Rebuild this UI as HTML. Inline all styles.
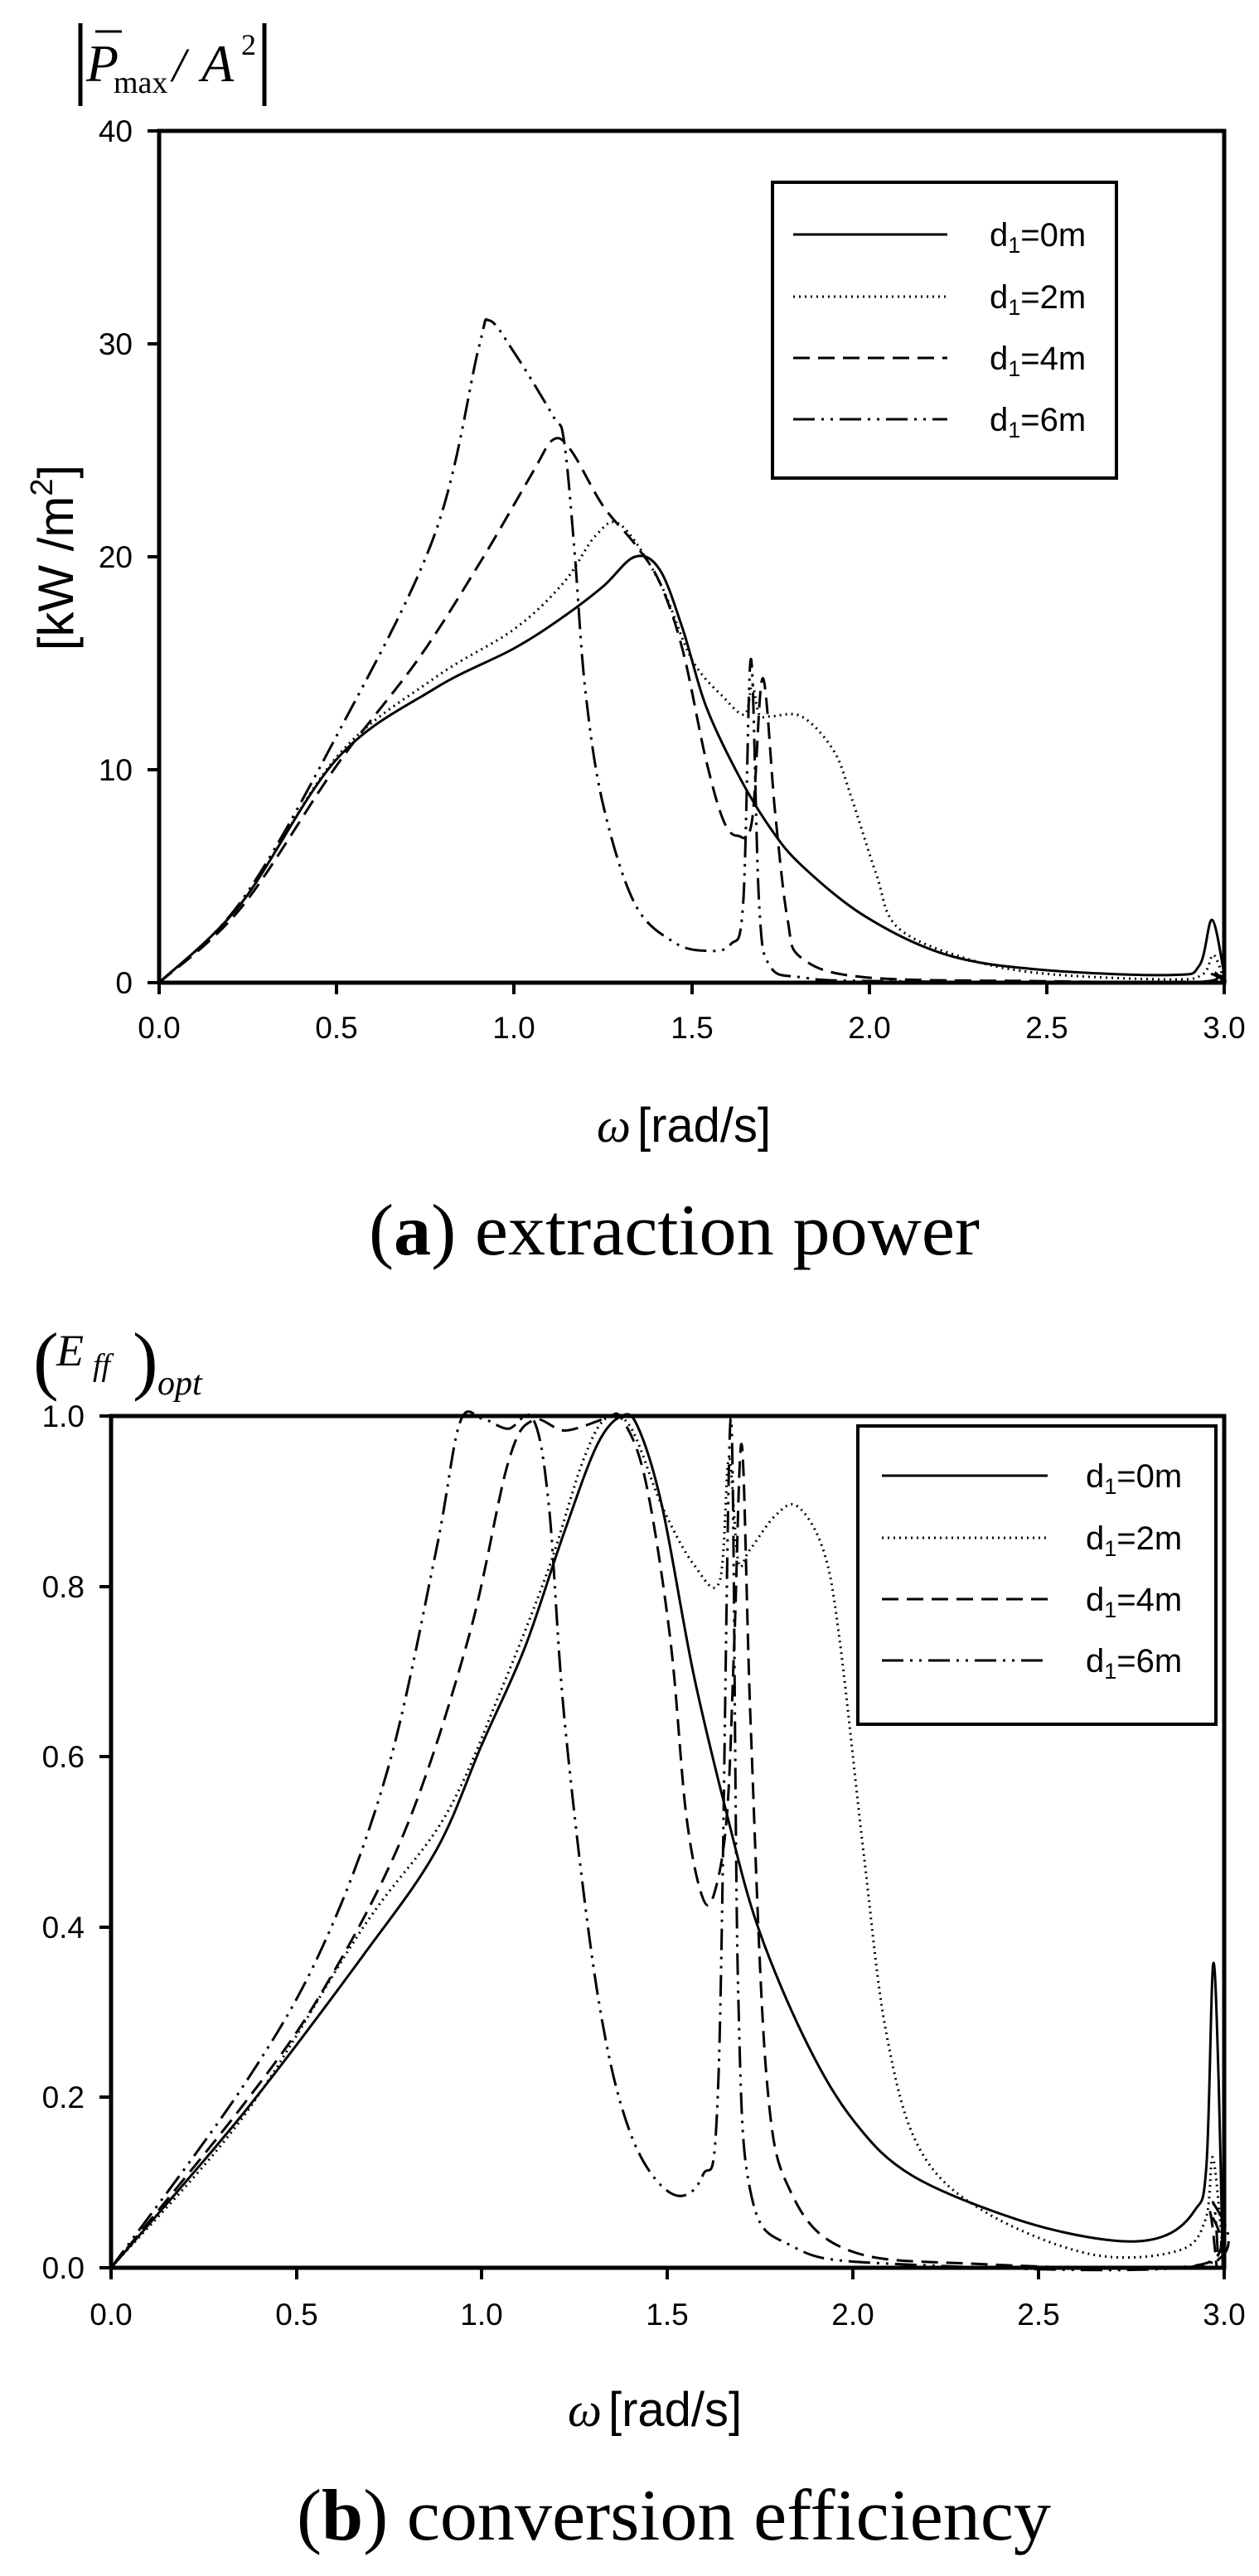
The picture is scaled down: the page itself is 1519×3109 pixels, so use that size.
<!DOCTYPE html>
<html><head><meta charset="utf-8"><style>
html,body{margin:0;padding:0;background:#fff;}
svg{display:block}
.t{font-family:"Liberation Sans",Arial,sans-serif;fill:#000}
.s{font-family:"Liberation Serif","Times New Roman",serif;fill:#000}
</style></head><body>
<svg id="sv" width="1519" height="3109" viewBox="0 0 1519 3109" xmlns="http://www.w3.org/2000/svg">
<rect width="1519" height="3109" fill="#fff"/>
<g stroke="#000" fill="none">
<rect x="192" y="158" width="1285" height="1028" stroke-width="5"/>
<path d="M178 1186H192M178 929H192M178 672H192M178 415H192M178 158H192" stroke-width="4"/>
<path d="M192 1186V1200M406 1186V1200M620 1186V1200M835 1186V1200M1049 1186V1200M1263 1186V1200M1477 1186V1200" stroke-width="4"/>
<rect x="932" y="220" width="415" height="357" stroke-width="4"/>
<rect x="134" y="1709" width="1343" height="1028" stroke-width="5"/>
<path d="M120 2737H134M120 2531H134M120 2326H134M120 2120H134M120 1915H134M120 1709H134" stroke-width="4"/>
<path d="M134 2737V2751M358 2737V2751M581 2737V2751M805 2737V2751M1029 2737V2751M1253 2737V2751M1477 2737V2751" stroke-width="4"/>
<rect x="1035" y="1721" width="432" height="360" stroke-width="4"/>
</g>
<g class="t" font-size="37" text-anchor="end">
<text x="160" y="1199">0</text><text x="160" y="942">10</text><text x="160" y="685">20</text><text x="160" y="428">30</text><text x="160" y="171">40</text>
</g>
<g class="t" font-size="37" text-anchor="middle">
<text x="192" y="1253">0.0</text><text x="406" y="1253">0.5</text><text x="620" y="1253">1.0</text><text x="835" y="1253">1.5</text><text x="1049" y="1253">2.0</text><text x="1263" y="1253">2.5</text><text x="1477" y="1253">3.0</text>
</g>
<g class="t" font-size="37" text-anchor="end">
<text x="102" y="2750">0.0</text><text x="102" y="2544">0.2</text><text x="102" y="2339">0.4</text><text x="102" y="2133">0.6</text><text x="102" y="1928">0.8</text><text x="102" y="1722">1.0</text>
</g>
<g class="t" font-size="37" text-anchor="middle">
<text x="134" y="2806">0.0</text><text x="358" y="2806">0.5</text><text x="581" y="2806">1.0</text><text x="805" y="2806">1.5</text><text x="1029" y="2806">2.0</text><text x="1253" y="2806">2.5</text><text x="1477" y="2806">3.0</text>
</g>
<line x1="97" y1="28" x2="97" y2="128" stroke="#000" stroke-width="5"/>
<line x1="319" y1="28" x2="319" y2="128" stroke="#000" stroke-width="5"/>
<line x1="115" y1="38" x2="147" y2="38" stroke="#000" stroke-width="3"/>
<text class="s" x="104" y="98" font-size="64" font-style="italic">P</text>
<text class="s" x="137" y="112" font-size="38">max</text>
<text class="s" x="208" y="98" font-size="58" font-style="italic">/</text>
<text class="s" x="243" y="98" font-size="64" font-style="italic">A</text>
<text class="s" x="291" y="66" font-size="36">2</text>
<text class="t" transform="translate(88,673) rotate(-90)" font-size="60" text-anchor="middle">[kW /m<tspan font-size="38" dy="-25">2</tspan><tspan dy="25">]</tspan></text>
<text x="720" y="1378"><tspan class="s" font-size="58" font-style="italic">ω</tspan><tspan class="t" font-size="58" dx="8">[rad/s]</tspan></text>
<text class="s" x="445" y="1514" font-size="88" textLength="737" lengthAdjust="spacingAndGlyphs">(<tspan font-weight="bold">a</tspan>) extraction power</text>
<text class="s" x="40" y="1672" font-size="92">(</text>
<text class="s" x="68" y="1648" font-size="54" font-style="italic">E</text>
<text class="s" x="112" y="1660" font-size="38" font-style="italic">ff</text>
<text class="s" x="160" y="1672" font-size="92">)</text>
<text class="s" x="190" y="1683" font-size="42" font-style="italic">opt</text>
<text x="685" y="2928"><tspan class="s" font-size="58" font-style="italic">ω</tspan><tspan class="t" font-size="58" dx="8">[rad/s]</tspan></text>
<text class="s" x="358" y="3065" font-size="88" textLength="910" lengthAdjust="spacingAndGlyphs">(<tspan font-weight="bold">b</tspan>) conversion efficiency</text>
<g class="t" font-size="40">
<text x="1194" y="297">d<tspan font-size="27" dy="8">1</tspan><tspan dy="-8">=0m</tspan></text>
<text x="1194" y="372">d<tspan font-size="27" dy="8">1</tspan><tspan dy="-8">=2m</tspan></text>
<text x="1194" y="446">d<tspan font-size="27" dy="8">1</tspan><tspan dy="-8">=4m</tspan></text>
<text x="1194" y="520">d<tspan font-size="27" dy="8">1</tspan><tspan dy="-8">=6m</tspan></text>
<text x="1310" y="1795">d<tspan font-size="27" dy="8">1</tspan><tspan dy="-8">=0m</tspan></text>
<text x="1310" y="1870">d<tspan font-size="27" dy="8">1</tspan><tspan dy="-8">=2m</tspan></text>
<text x="1310" y="1944">d<tspan font-size="27" dy="8">1</tspan><tspan dy="-8">=4m</tspan></text>
<text x="1310" y="2018">d<tspan font-size="27" dy="8">1</tspan><tspan dy="-8">=6m</tspan></text>
</g>
<g stroke="#000" stroke-width="3" fill="none">
<line x1="957" y1="283" x2="1143" y2="283"/>
<line x1="957" y1="358" x2="1143" y2="358" stroke-dasharray="2 5"/>
<line x1="957" y1="432" x2="1143" y2="432" stroke-dasharray="20 10"/>
<line x1="957" y1="506" x2="1143" y2="506" stroke-dasharray="26 8 3 8 3 8"/>
<line x1="1064" y1="1781" x2="1264" y2="1781"/>
<line x1="1064" y1="1856" x2="1264" y2="1856" stroke-dasharray="2 5"/>
<line x1="1064" y1="1930" x2="1264" y2="1930" stroke-dasharray="20 10"/>
<line x1="1064" y1="2004" x2="1264" y2="2004" stroke-dasharray="26 8 3 8 3 8"/>
</g>
<g id="curves" stroke="#000" stroke-width="3" fill="none"></g>
</svg>
<script>
var A0=[[0,0],[.23,3.7],[.5,10.5],[.775,13.8],[1,15.7],[1.14,17.2],[1.25,18.6],[1.34,20],[1.41,19.4],[1.475,16.6],[1.54,13],[1.63,9.8],[1.72,7.3],[1.81,5.5],[1.99,3.1],[2.22,1.3],[2.49,.6],[2.85,.36],[2.93,.8],[2.966,2.95],[3,.4]];
var A2=[[0,0],[.23,3.7],[.5,10.6],[.775,14.3],[1,16.6],[1.14,18.8],[1.23,21],[1.3,21.5],[1.41,18.8],[1.5,15.2],[1.59,13.4],[1.65,12.6],[1.67,14],[1.69,12.6],[1.72,12.5],[1.81,12.5],[1.9,10.9],[1.95,8.7],[2.02,5.1],[2.08,2.6],[2.27,1.15],[2.49,.43],[2.85,.15],[2.94,.4],[2.97,1.3],[3,.1]];
var A4=[[0,0],[.23,3.5],[.5,10.2],[.73,15.2],[.91,19.9],[1.05,23.9],[1.11,25.5],[1.16,25],[1.25,22.4],[1.34,20.6],[1.41,18.8],[1.475,15.6],[1.54,10.5],[1.59,7.6],[1.63,6.9],[1.67,7.6],[1.7,14.3],[1.735,8],[1.77,3],[1.81,1.15],[1.99,.25],[2.49,.07],[2.94,.05],[2.97,.5],[3,0]];
var A6=[[0,0],[.23,3.8],[.5,11.6],[.775,21],[.9,29.8],[.93,31.1],[1,29.6],[1.11,26.6],[1.14,25.5],[1.17,20.3],[1.2,13.8],[1.25,8.4],[1.34,3.7],[1.45,1.9],[1.54,1.5],[1.61,1.8],[1.645,3.7],[1.667,15.2],[1.69,3.7],[1.72,.8],[1.81,.25],[2.04,.07],[2.94,.03],[2.966,.4],[3,0]];
var B0=[[0,0],[.354,.18],[.68,.367],[.876,.49],[1,.615],[1.115,.728],[1.22,.862],[1.31,.966],[1.376,1],[1.42,.987],[1.485,.894],[1.57,.697],[1.66,.532],[1.745,.398],[1.876,.263],[2.006,.17],[2.16,.108],[2.44,.057],[2.68,.033],[2.83,.036],[2.92,.067],[2.952,.119],[2.97,.356],[2.985,.22],[2.996,0]];
var B2=[[0,0],[.354,.176],[.68,.4],[.9,.53],[1.05,.677],[1.18,.822],[1.27,.945],[1.333,.997],[1.4,.987],[1.485,.894],[1.57,.826],[1.64,.806],[1.665,.95],[1.69,.83],[1.72,.842],[1.79,.883],[1.85,.894],[1.92,.842],[1.963,.739],[2.03,.48],[2.09,.274],[2.18,.139],[2.35,.067],[2.64,.016],[2.876,.02],[2.95,.057],[2.97,.129],[3,0]];
var B4=[[0,0],[.354,.19],[.57,.325],[.79,.511],[.963,.739],[1.07,.945],[1.137,.995],[1.224,.983],[1.333,.997],[1.376,.997],[1.44,.925],[1.507,.739],[1.55,.532],[1.594,.435],[1.626,.44],[1.66,.532],[1.68,.739],[1.70,.966],[1.724,.635],[1.767,.222],[1.833,.088],[1.985,.021],[2.31,.005],[2.94,.004],[2.96,.067],[2.98,0]];
var B6=[[0,0],[.354,.212],[.57,.377],[.745,.584],[.876,.842],[.94,.992],[1,.997],[1.07,.985],[1.137,.997],[1.18,.894],[1.224,.635],[1.31,.325],[1.398,.16],[1.507,.088],[1.594,.108],[1.637,.222],[1.67,.997],[1.69,.325],[1.724,.088],[1.833,.026],[2.09,.005],[2.94,.003],[2.97,.077],[2.985,0]];
function path(d,fx,fy){var p=d.map(function(a){return[fx(a[0]),fy(a[1])]});var s="M"+p[0][0].toFixed(1)+" "+p[0][1].toFixed(1);
for(var i=0;i<p.length-1;i++){var p0=p[i-1]||p[i],p1=p[i],p2=p[i+1],p3=p[i+2]||p2;var k=1/6;
var c1=[p1[0]+(p2[0]-p0[0])*k,p1[1]+(p2[1]-p0[1])*k],c2=[p2[0]-(p3[0]-p1[0])*k,p2[1]-(p3[1]-p1[1])*k];
s+="C"+c1[0].toFixed(1)+" "+c1[1].toFixed(1)+" "+c2[0].toFixed(1)+" "+c2[1].toFixed(1)+" "+p2[0].toFixed(1)+" "+p2[1].toFixed(1);}return s;}
var ax=function(w){return 192+428.33*w},ay=function(v){return 1186-25.7*v};
var bx=function(w){return 134+447.67*w},by=function(e){return 2737-1028*e};
var g=document.getElementById("curves"),ns="http://www.w3.org/2000/svg";
function add(d,fx,fy,dash){var e=document.createElementNS(ns,"path");e.setAttribute("d",path(d,fx,fy));if(dash)e.setAttribute("stroke-dasharray",dash);g.appendChild(e);}
add(A0,ax,ay,null);add(A2,ax,ay,"2 5");add(A4,ax,ay,"20 10");add(A6,ax,ay,"26 8 3 8 3 8");
add(B0,bx,by,null);add(B2,bx,by,"2 5");add(B4,bx,by,"20 10");add(B6,bx,by,"26 8 3 8 3 8");
</script>
</body></html>
